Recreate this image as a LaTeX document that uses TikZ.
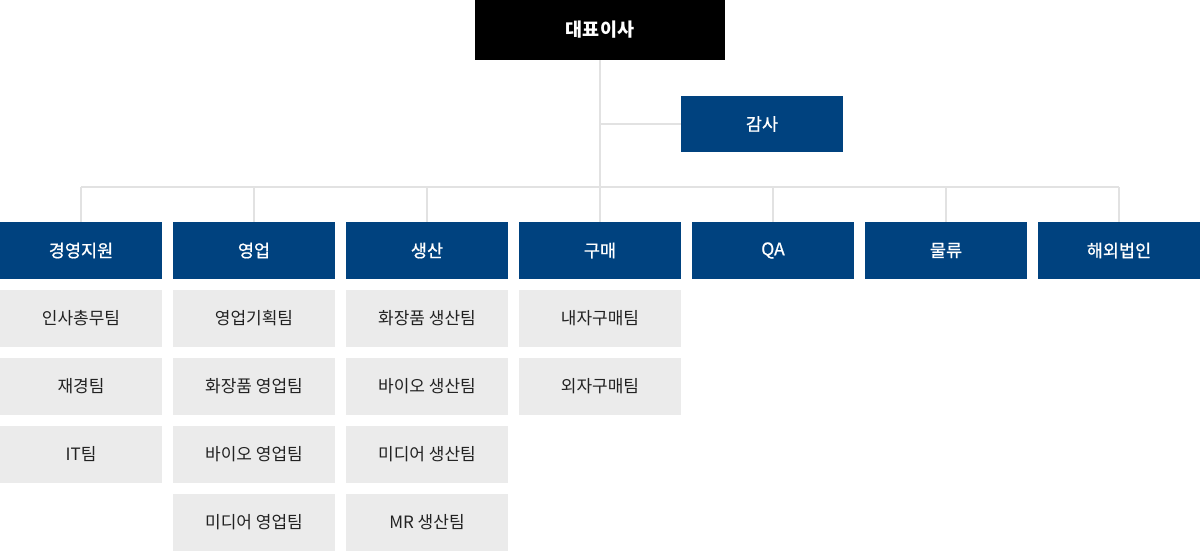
\documentclass[tikz,border=0pt]{standalone}
\usepackage{fontspec}
\setmainfont{Noto Sans CJK KR}
\newfontfamily\headfont[FakeBold=0.8]{Noto Sans CJK KR}
\definecolor{navy}{HTML}{00427F}
\definecolor{teamgray}{HTML}{EBEBEB}
\definecolor{linegray}{HTML}{E2E2E2}
\definecolor{ink}{HTML}{222222}
\tikzset{
  ceobox/.style={fill=black,text=white,minimum width=250pt,minimum height=60pt,inner sep=0pt,font=\fontsize{18.5}{22}\selectfont\bfseries},
  headbox/.style={fill=navy,text=white,minimum width=162pt,minimum height=57pt,inner sep=0pt,font=\headfont\fontsize{17.5}{20}\selectfont},
  teambox/.style={fill=teamgray,text=ink,minimum width=162pt,minimum height=57pt,inner sep=0pt,font=\fontsize{17}{20}\selectfont},
  link/.style={draw=linegray,line width=2pt}
}
\begin{document}
\begin{tikzpicture}[x=1pt,y=1pt]
\useasboundingbox (0,0) rectangle (1200,-551);
\node[ceobox] (ceo) at (600,-30) {대표이사};
\node[headbox,minimum height=56pt] (audit) at (762,-124) {감사};
\coordinate (bus) at (600,-187);
\node[headbox] (mgmt) at (81,-250.5) {경영지원};
\node[headbox] (sales) at (254,-250.5) {영업};
\node[headbox] (prod) at (427,-250.5) {생산};
\node[headbox] (purch) at (600,-250.5) {구매};
\node[headbox] (qa) at (773,-250.5) {QA};
\node[headbox] (logis) at (946,-250.5) {물류};
\node[headbox] (overseas) at (1119,-250.5) {해외법인};
\node[teambox] (mgmt1) at (81,-318.5) {인사총무팀};
\node[teambox] (mgmt2) at (81,-386.5) {재경팀};
\node[teambox] (mgmt3) at (81,-454.5) {IT팀};
\node[teambox] (sales1) at (254,-318.5) {영업기획팀};
\node[teambox] (sales2) at (254,-386.5) {화장품 영업팀};
\node[teambox] (sales3) at (254,-454.5) {바이오 영업팀};
\node[teambox] (sales4) at (254,-522.5) {미디어 영업팀};
\node[teambox] (prod1) at (427,-318.5) {화장품 생산팀};
\node[teambox] (prod2) at (427,-386.5) {바이오 생산팀};
\node[teambox] (prod3) at (427,-454.5) {미디어 생산팀};
\node[teambox] (prod4) at (427,-522.5) {MR 생산팀};
\node[teambox] (purch1) at (600,-318.5) {내자구매팀};
\node[teambox] (purch2) at (600,-386.5) {외자구매팀};
% connectors
\draw[link] (ceo.south) -- (purch.north);
\draw[link] (ceo.south |- audit.west) -- (audit.west);
\draw[link] (mgmt.north |- bus) -- (overseas.north |- bus);
\draw[link] (mgmt.north |- bus) -- (mgmt.north);
\draw[link] (sales.north |- bus) -- (sales.north);
\draw[link] (prod.north |- bus) -- (prod.north);
\draw[link] (qa.north |- bus) -- (qa.north);
\draw[link] (logis.north |- bus) -- (logis.north);
\draw[link] (overseas.north |- bus) -- (overseas.north);
\end{tikzpicture}
\end{document}
